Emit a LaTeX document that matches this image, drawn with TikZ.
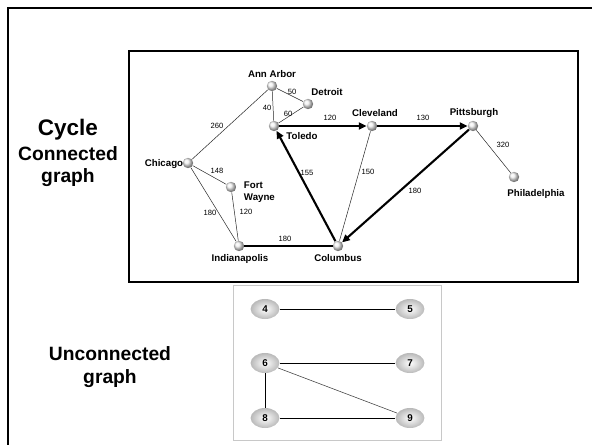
\documentclass[tikz,border=0pt]{standalone}
\usepackage{fontspec}
\setmainfont{Liberation Sans}
\usetikzlibrary{positioning,arrows.meta,shapes.geometric,shadows}
\definecolor{framegray}{HTML}{c8c8c8}

\tikzset{
  city/.style={circle, inner sep=0pt, minimum size=0.26cm, shading=ball, ball color=gray!12},
  cityname/.style={font=\bfseries\fontsize{6.9}{8}\selectfont, anchor=base},
  dist/.style={font=\fontsize{5.4}{6}\selectfont, inner sep=0pt},
  road/.style={draw=black!85, line width=0.35pt},
  tour/.style={line width=1.5pt, -{Triangle[length=5.5pt,width=5pt]}},
  vert/.style={ellipse, minimum width=0.72cm, minimum height=0.5cm, inner sep=0pt,
    shading=radial, inner color=white, outer color=gray!55, font=\bfseries\fontsize{7}{8}\selectfont},
  side/.style={font=\bfseries\fontsize{13.7}{16}\selectfont, anchor=base},
}

\begin{document}
\begin{tikzpicture}[x=0.025cm, y=-0.025cm]
  \useasboundingbox (0,0) rectangle (592,445);

  % outer frame, only left and top edges visible
  \draw[line width=1.4pt] (8,445) -- (8,8) -- (592,8);

  % frames round the two graphs
  \draw[line width=0.8pt, fill=white, drop shadow={shadow xshift=0.8pt, shadow yshift=-0.8pt, fill=gray!60}]
    (129,51) rectangle (578,282);
  \draw[framegray, line width=0.6pt] (233,285) rectangle (441,440);

  % side captions
  \node[side, font=\bfseries\fontsize{16}{18}\selectfont] (cyc) at (68,136) {Cycle};
  \node[side] (con) at (68,161) {Connected};
  \node[side] (cong) at (68,183) {graph};
  \node[side] (uncon) at (110,360) {Unconnected};
  \node[side] (uncong) at (110,384) {graph};

  % cities
  \node[city] (ann) at (272,86) {};
  \node[city] (det) at (308,104) {};
  \node[city] (tol) at (274,126) {};
  \node[city] (cle) at (372,126) {};
  \node[city] (pit) at (473,126) {};
  \node[city] (phi) at (514,177) {};
  \node[city] (chi) at (188,163) {};
  \node[city] (ftw) at (231,187) {};
  \node[city] (ind) at (239,246) {};
  \node[city] (col) at (338,246) {};

  \node[cityname] at (272,78) {Ann Arbor};
  \node[cityname] at (327,96) {Detroit};
  \node[cityname] at (302,140) {Toledo};
  \node[cityname] at (375,117) {Cleveland};
  \node[cityname] at (474,116) {Pittsburgh};
  \node[cityname] at (536,197) {Philadelphia};
  \node[cityname] at (164,167) {Chicago};
  \node[cityname, anchor=base west] at (239,189) {Fort};
  \node[cityname, anchor=base west] at (239,201) {Wayne};
  \node[cityname] at (240,262) {Indianapolis};
  \node[cityname] at (338,262) {Columbus};

  % roads
  \draw[road] (ann) -- (det);
  \draw[road] (ann) -- (tol);
  \draw[road] (det) -- (tol);
  \draw[road] (ann) -- (chi);
  \draw[road] (chi) -- (ftw);
  \draw[road] (chi) -- (ind);
  \draw[road] (ftw) -- (ind);
  \draw[road] (col) -- (cle);
  \draw[road] (pit) -- (phi);
  \draw[line width=0.9pt] (ind) -- (col);

  % the cycle
  \draw[tour] (tol) -- (cle);
  \draw[tour] (cle) -- (pit);
  \draw[tour] (pit) -- (col);
  \draw[tour] (col) -- (tol);

  % distances
  \node[dist] at (292,92) {50};
  \node[dist] at (267,108) {40};
  \node[dist] at (288,114) {60};
  \node[dist] at (330,118) {120};
  \node[dist] at (217,126) {260};
  \node[dist] at (217,171) {148};
  \node[dist] at (307,173) {155};
  \node[dist] at (368,172) {150};
  \node[dist] at (423,118) {130};
  \node[dist] at (503,145) {320};
  \node[dist] at (415,191) {180};
  \node[dist] at (210,213) {180};
  \node[dist] at (246,212) {120};
  \node[dist] at (285,239) {180};

  % unconnected graph
  \foreach \n/\x/\y in {4/265/309, 5/410/309, 6/265/363, 7/410/363, 8/265/418, 9/410/418}
    \node[vert] (v\n) at (\x,\y) {\n};
  \draw[line width=0.7pt] (v4) -- (v5);
  \draw[line width=0.7pt] (v6) -- (v7);
  \draw[line width=0.7pt] (v6) -- (v8);
  \draw[line width=0.7pt] (v8) -- (v9);
  \draw[black!75, line width=0.4pt] (v6) -- (v9);
\end{tikzpicture}
\end{document}
